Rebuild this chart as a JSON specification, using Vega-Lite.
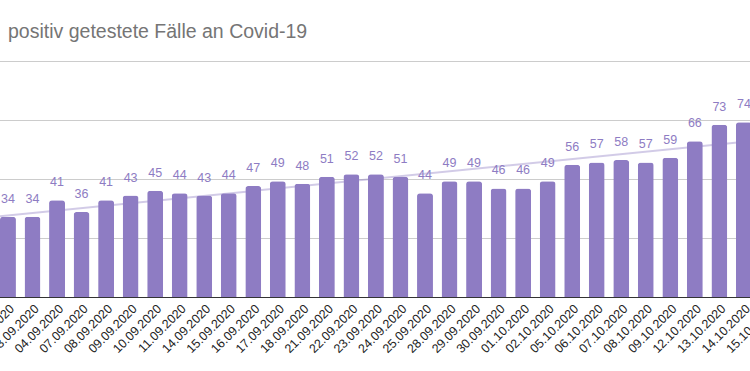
{
  "$schema": "https://vega.github.io/schema/vega-lite/v6.json",
  "width": 750,
  "height": 236,
  "autosize": {"type": "none"},
  "padding": {"left": 0, "right": 0, "top": 61, "bottom": 74},
  "title": {
    "text": "positiv getestete Fälle an Covid-19",
    "anchor": "start",
    "frame": "group",
    "dx": 8,
    "offset": 19,
    "font": "Liberation Sans",
    "fontSize": 19.5,
    "fontWeight": "normal",
    "color": "#757575"
  },
  "data": {
    "values": [
      {"datum": "02.09.2020", "faelle": 34},
      {"datum": "03.09.2020", "faelle": 34},
      {"datum": "04.09.2020", "faelle": 41},
      {"datum": "07.09.2020", "faelle": 36},
      {"datum": "08.09.2020", "faelle": 41},
      {"datum": "09.09.2020", "faelle": 43},
      {"datum": "10.09.2020", "faelle": 45},
      {"datum": "11.09.2020", "faelle": 44},
      {"datum": "14.09.2020", "faelle": 43},
      {"datum": "15.09.2020", "faelle": 44},
      {"datum": "16.09.2020", "faelle": 47},
      {"datum": "17.09.2020", "faelle": 49},
      {"datum": "18.09.2020", "faelle": 48},
      {"datum": "21.09.2020", "faelle": 51},
      {"datum": "22.09.2020", "faelle": 52},
      {"datum": "23.09.2020", "faelle": 52},
      {"datum": "24.09.2020", "faelle": 51},
      {"datum": "25.09.2020", "faelle": 44},
      {"datum": "28.09.2020", "faelle": 49},
      {"datum": "29.09.2020", "faelle": 49},
      {"datum": "30.09.2020", "faelle": 46},
      {"datum": "01.10.2020", "faelle": 46},
      {"datum": "02.10.2020", "faelle": 49},
      {"datum": "05.10.2020", "faelle": 56},
      {"datum": "06.10.2020", "faelle": 57},
      {"datum": "07.10.2020", "faelle": 58},
      {"datum": "08.10.2020", "faelle": 57},
      {"datum": "09.10.2020", "faelle": 59},
      {"datum": "12.10.2020", "faelle": 66},
      {"datum": "13.10.2020", "faelle": 73},
      {"datum": "14.10.2020", "faelle": 74},
      {"datum": "15.10.2020", "faelle": 83}
    ]
  },
  "layer": [
    {
      "transform": [
        {"window": [{"op": "row_number", "as": "idx"}]},
        {"regression": "faelle", "on": "idx", "method": "linear", "extent": [0.5, 32.5]}
      ],
      "mark": {"type": "line", "clip": true, "stroke": "#8e7cc3", "strokeOpacity": 0.4, "strokeWidth": 2},
      "encoding": {
        "x": {"field": "idx", "type": "quantitative", "scale": {"domain": [0.5, 32.5], "range": [-4.3, 780.7], "nice": false, "zero": false}, "axis": null},
        "y": {"field": "faelle", "type": "quantitative"}
      }
    },
    {
      "layer": [
        {
          "mark": {"type": "bar", "color": "#8e7cc3", "cornerRadiusTopLeft": 3, "cornerRadiusTopRight": 3},
          "encoding": {
            "x": {"field": "datum", "type": "ordinal", "sort": null, "scale": {"type": "band", "range": [-4.3, 780.7], "paddingInner": 0.35, "paddingOuter": 0.175},
              "axis": {"title": null, "labelAngle": -45, "labelFont": "Liberation Sans", "labelFontSize": 12.5, "labelColor": "#222222", "ticks": false, "domainColor": "#333333", "labelPadding": 5, "labelOverlap": false, "zindex": 1}},
            "y": {"field": "faelle", "type": "quantitative", "scale": {"domain": [0, 100], "nice": false},
              "axis": {"title": null, "labels": false, "ticks": false, "domain": false, "grid": true, "gridColor": "#cccccc", "values": [0, 25, 50, 75, 100]}}
          }
        },
        {
          "mark": {"type": "text", "color": "#8e7cc3", "font": "Liberation Sans", "fontSize": 12.5, "baseline": "bottom", "dy": -11},
          "encoding": {
            "x": {"field": "datum", "type": "ordinal", "sort": null},
            "y": {"field": "faelle", "type": "quantitative"},
            "text": {"field": "faelle", "type": "quantitative"}
          }
        }
      ]
    }
  ],
  "resolve": {"scale": {"x": "independent"}},
  "config": {"view": {"stroke": null}}
}
